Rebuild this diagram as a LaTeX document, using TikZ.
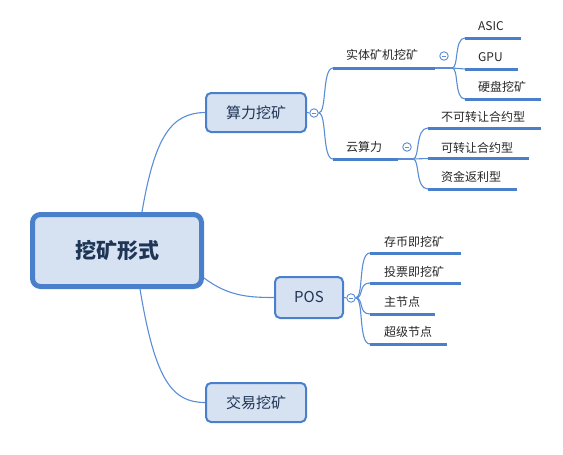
\documentclass[tikz,border=0pt]{standalone}
\usepackage{fontspec}
\setmainfont{Noto Sans CJK SC}
\usetikzlibrary{calc}
\definecolor{bordc}{HTML}{4A7FCB}
\definecolor{fillc}{HTML}{D6E2F1}
\definecolor{txtc}{HTML}{1F3556}
\definecolor{linec}{HTML}{5A8DD6}
\tikzset{
  rootbox/.style={draw=bordc, line width=5pt, fill=fillc, rounded corners=8pt, minimum width=169pt, minimum height=72pt, text=txtc, font=\fontsize{21}{24}\selectfont\bfseries, inner sep=0pt},
  topicbox/.style={draw=bordc, line width=2pt, fill=fillc, rounded corners=5pt, text=txtc, font=\fontsize{15}{18}\selectfont, inner sep=0pt},
  leaf/.style={anchor=west, inner sep=0pt, text=black!85, font=\fontsize{12}{14}\selectfont},
  uline/.style={draw=bordc, line width=3pt},
  conn/.style={draw=linec, line width=1.1pt},
  fold/.style={circle, draw=linec, line width=0.9pt, fill=white, minimum size=8.5pt, inner sep=0pt,
    path picture={\draw[linec, line width=0.7pt] ($(path picture bounding box.west)+(2.2pt,0)$) -- ($(path picture bounding box.east)+(-2.2pt,0)$);}},
}
\begin{document}
\begin{tikzpicture}[x=1pt, y=-1pt]
\useasboundingbox (0,0) rectangle (563,455);
% main boxes
\node[rootbox] (root) at (117,250.5) {挖矿形式};
\node[topicbox, minimum width=100pt, minimum height=39pt] (suanli) at (256,112.5) {算力挖矿};
\node[topicbox, minimum width=68pt, minimum height=41pt] (pos) at (309,297.5) {POS};
\node[topicbox, minimum width=100pt, minimum height=39pt] (jiaoyi) at (256,402.5) {交易挖矿};
% root connectors
\coordinate (rtop) at (142,212);
\coordinate (rbot) at (140,289);
\coordinate (rright) at (204,278);
\draw[conn] (rtop) .. controls (155,135) and (172,113) .. (suanli.west);
\draw[conn] (rright) .. controls (228,296) and (248,297.5) .. (pos.west);
\draw[conn] (rbot) .. controls (155,380) and (172,402.5) .. (jiaoyi.west);
% fold circles
\node[fold] (f1) at (314,113) {};
\node[fold] (f2) at (444,56) {};
\node[fold] (f3) at (407,147) {};
\node[fold] (f4) at (351,298) {};
\draw[conn] (suanli.east) -- (f1.west);
\draw[conn] (pos.east) -- (f4.west);
% level 2 under 算力挖矿
\coordinate (sA) at (333,68); \coordinate (sB) at (435,68);
\coordinate (yA) at (333,159); \coordinate (yB) at (398,159);
\draw[conn] (f1.east) .. controls (327,113) and (322,68) .. (sA);
\draw[conn] (f1.east) .. controls (327,113) and (322,159) .. (yA);
\draw[uline] (sA) -- (sB);
\draw[uline] (yA) -- (yB);
\node[leaf] (shiti) at ($(sA)+(13,-13)$) {实体矿机挖矿};
\node[leaf] (yun) at ($(yA)+(13,-12)$) {云算力};
% children of 实体矿机挖矿
\coordinate (sJ) at (452,68);
\draw[conn] (sB) -- (sJ);
\coordinate (aA) at (465,38); \coordinate (aB) at (521,38);
\coordinate (gA) at (465,69); \coordinate (gB) at (518,69);
\coordinate (hA) at (465,99); \coordinate (hB) at (541,99);
\draw[conn] (sJ) .. controls (459,68) and (454,38) .. (aA);
\draw[conn] (sJ) -- (gA);
\draw[conn] (sJ) .. controls (459,68) and (454,99) .. (hA);
\draw[uline] (aA) -- (aB);
\draw[uline] (gA) -- (gB);
\draw[uline] (hA) -- (hB);
\node[leaf] (asic) at ($(aA)+(13,-12)$) {ASIC};
\node[leaf] (gpu) at ($(gA)+(13,-12)$) {GPU};
\node[leaf] (yingpan) at ($(hA)+(13,-12)$) {硬盘挖矿};
% children of 云算力
\coordinate (yJ) at (413,159);
\draw[conn] (yB) -- (yJ);
\coordinate (bA) at (428,128); \coordinate (bB) at (541,128);
\coordinate (kA) at (428,158.5); \coordinate (kB) at (529,158.5);
\coordinate (zA) at (428,189); \coordinate (zB) at (517,189);
\draw[conn] (yJ) .. controls (420,159) and (415,128) .. (bA);
\draw[conn] (yJ) -- (kA);
\draw[conn] (yJ) .. controls (420,159) and (415,189) .. (zA);
\draw[uline] (bA) -- (bB);
\draw[uline] (kA) -- (kB);
\draw[uline] (zA) -- (zB);
\node[leaf] (bukezhuan) at ($(bA)+(13,-11)$) {不可转让合约型};
\node[leaf] (kezhuan) at ($(kA)+(13,-11)$) {可转让合约型};
\node[leaf] (zijin) at ($(zA)+(13,-12)$) {资金返利型};
% children of POS
\coordinate (pA) at (370,253); \coordinate (pB) at (461,253);
\coordinate (tA) at (370,283); \coordinate (tB) at (461,283);
\coordinate (mA) at (370,314); \coordinate (mB) at (435,314);
\coordinate (cA) at (370,344); \coordinate (cB) at (447,344);
\draw[conn] (f4.east) .. controls (364,298) and (358,253) .. (pA);
\draw[conn] (f4.east) .. controls (364,298) and (358,283) .. (tA);
\draw[conn] (f4.east) .. controls (364,298) and (358,314) .. (mA);
\draw[conn] (f4.east) .. controls (364,298) and (358,344) .. (cA);
\draw[uline] (pA) -- (pB);
\draw[uline] (tA) -- (tB);
\draw[uline] (mA) -- (mB);
\draw[uline] (cA) -- (cB);
\node[leaf] (cunbi) at ($(pA)+(14,-11)$) {存币即挖矿};
\node[leaf] (toupiao) at ($(tA)+(14,-11)$) {投票即挖矿};
\node[leaf] (zhujie) at ($(mA)+(14,-12)$) {主节点};
\node[leaf] (chaoji) at ($(cA)+(14,-12)$) {超级节点};
\end{tikzpicture}
\end{document}
